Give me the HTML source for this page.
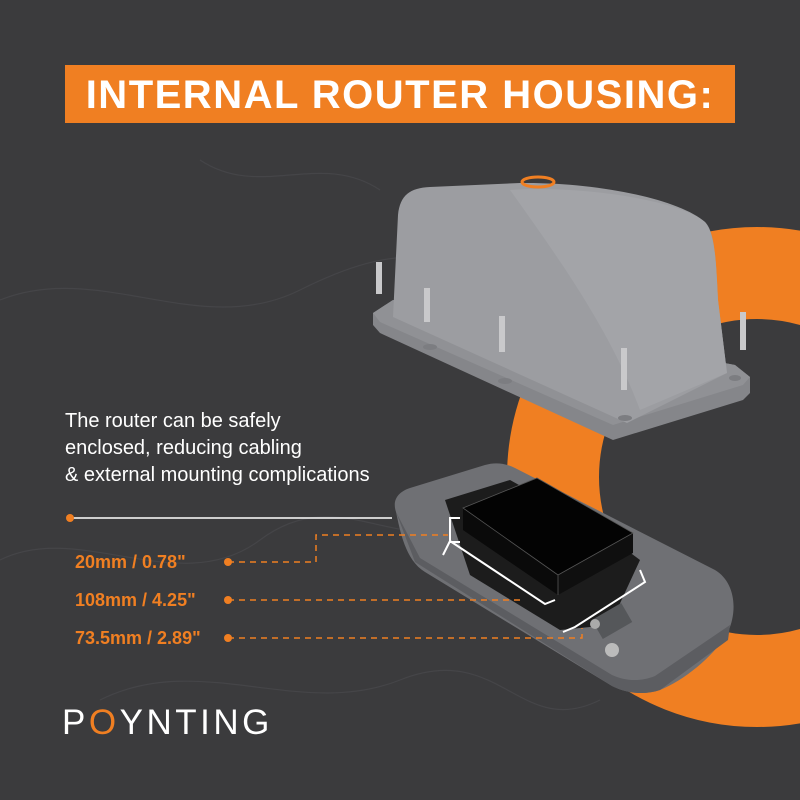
<!DOCTYPE html><html><head><style>body{margin:0}svg{display:block}</style></head><body>
<svg width="800" height="800" viewBox="0 0 800 800" xmlns="http://www.w3.org/2000/svg" font-family="Liberation Sans, sans-serif">
<rect width="800" height="800" fill="#3b3b3d"/>
<g fill="none" stroke="#454548" stroke-width="1.2">
<path d="M0 300 C100 260 200 340 300 290 S 450 250 520 300"/>
<path d="M0 560 C80 520 180 600 260 540 S 400 560 470 520"/>
<path d="M100 700 C200 650 300 720 400 680 S 520 740 600 700"/>
<path d="M200 160 C260 200 320 150 380 190"/>
</g>
<circle cx="757" cy="477" r="204" fill="none" stroke="#f07f22" stroke-width="92"/>
<rect x="65" y="65" width="670" height="58" fill="#f07f22"/>
<text x="400" y="108" text-anchor="middle" font-size="40" font-weight="bold" fill="#fff" letter-spacing="1.5">INTERNAL ROUTER HOUSING:</text>
<!-- housing flange -->
<path d="M373 313 L393 300 L735 365 L750 377 L750 393 L743 400 L613 440 L380 333 L373 325 Z" fill="#85868a"/>
<path d="M373 313 L393 300 L735 365 L750 377 L743 385 L613 425 L380 322 Z" fill="#909195"/>
<!-- body -->
<path d="M393 317 L398 215 C400 195 410 188 430 187 L520 183 C600 182 680 200 705 222 C715 232 716 260 718 300 L727 373 L627 423 Z" fill="#9c9da1"/>
<path d="M510 190 C580 185 680 200 705 222 C715 235 716 260 718 300 L727 373 L640 410 C610 330 560 260 510 190Z" fill="#a3a4a8"/>
<ellipse cx="538" cy="182" rx="16" ry="5" fill="none" stroke="#f07f22" stroke-width="3"/>
<g fill="#c9c9cb"><rect x="376" y="262" width="6" height="32"/><rect x="424" y="288" width="6" height="34"/><rect x="499" y="316" width="6" height="36"/><rect x="621" y="348" width="6" height="42"/><rect x="740" y="312" width="6" height="38"/></g>
<g fill="#7c7d81"><ellipse cx="430" cy="347" rx="7" ry="3"/><ellipse cx="505" cy="381" rx="7" ry="3"/><ellipse cx="625" cy="418" rx="7" ry="3"/><ellipse cx="735" cy="378" rx="6" ry="3"/></g>
<text x="65" y="427" font-size="20" fill="#fff">The router can be safely</text>
<text x="65" y="454" font-size="20" fill="#fff">enclosed, reducing cabling</text>
<text x="65" y="481" font-size="20" fill="#fff">&amp; external mounting complications</text>
<!-- base plate -->
<path d="M396 512 C392 500 398 492 410 488 L485 465 C495 462 505 463 515 468 L715 570 C735 582 738 610 728 632 C715 655 685 680 660 690 C645 695 628 694 612 686 L425 572 C405 560 400 530 396 512Z" fill="#6f7074"/>
<path d="M396 512 L415 562 L612 686 C628 694 645 695 660 690 L728 640 L730 625 L655 676 C640 682 625 681 612 675 L420 558 Z" fill="#5c5d61"/>
<path d="M445 500 L510 480 L600 530 L640 560 L610 625 L560 630 L470 575 Z" fill="#1c1c1c"/>
<path d="M463 508 L537 478 L633 533 L558 575 Z" fill="#030303"/>
<path d="M463 508 L558 575 L558 595 L463 530 Z" fill="#0a0a0a"/>
<path d="M558 575 L633 533 L633 553 L558 595Z" fill="#0f0f0f"/>
<path d="M463 508 L537 478 L633 533 L558 575 Z M558 575 L558 595" fill="none" stroke="#555" stroke-width="0.8"/>
<rect x="595" y="610" width="34" height="22" fill="#55575a" transform="rotate(-30 612 621)"/>
<circle cx="612" cy="650" r="7" fill="#bbb"/><circle cx="595" cy="624" r="5" fill="#aaa"/>
<path d="M443 555 L450 541 L545 604 L555 600 M563 632 L575 627 L645 582 L640 570" stroke="#fff" stroke-width="2" fill="none"/>
<path d="M460 518 L450 518 L450 542 L460 542" stroke="#fff" stroke-width="2" fill="none"/>
<line x1="70" y1="518" x2="392" y2="518" stroke="#fff" stroke-width="1.5"/>
<circle cx="70" cy="518" r="4" fill="#f07f22"/>
<g stroke="#f07f22" stroke-width="1.5" stroke-dasharray="6 5" fill="none">
<path d="M228 562 L316 562 L316 535 L448 535"/>
<path d="M228 600 L520 600"/>
<path d="M228 638 L582 638 L582 628"/>
</g>
<g fill="#f07f22"><circle cx="228" cy="562" r="4"/><circle cx="228" cy="600" r="4"/><circle cx="228" cy="638" r="4"/></g>
<g font-size="18" font-weight="bold" fill="#f07f22">
<text x="75" y="568">20mm /  0.78"</text>
<text x="75" y="606">108mm / 4.25"</text>
<text x="75" y="644">73.5mm / 2.89"</text>
</g>
<text x="62" y="734" font-size="35" fill="#fff" letter-spacing="3.5">P<tspan fill="#f07f22">O</tspan>YNTING</text>
</svg>
</body></html>
